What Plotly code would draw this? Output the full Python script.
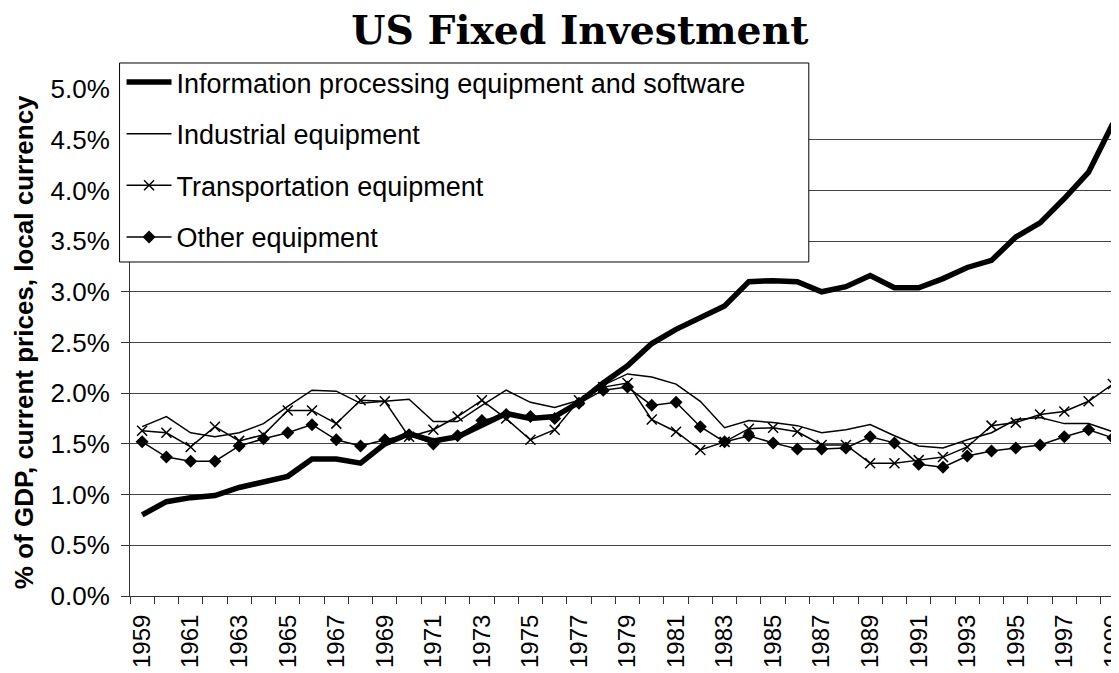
import plotly.graph_objects as go

years = list(range(1959, 2000))

info_processing = [0.80, 0.93, 0.97, 0.99, 1.07, 1.12, 1.18, 1.35, 1.35, 1.31,
                   1.50, 1.60, 1.53, 1.57, 1.69, 1.80, 1.75, 1.77, 1.91, 2.10,
                   2.27, 2.49, 2.63, 2.74, 2.86, 3.10, 3.11, 3.10, 3.00, 3.05,
                   3.16, 3.04, 3.04, 3.13, 3.24, 3.31, 3.54, 3.68, 3.92, 4.18, 4.66]
industrial = [1.67, 1.77, 1.61, 1.57, 1.61, 1.70, 1.87, 2.03, 2.02, 1.90,
              1.92, 1.94, 1.72, 1.72, 1.88, 2.03, 1.91, 1.86, 1.93, 2.08,
              2.19, 2.16, 2.09, 1.92, 1.66, 1.73, 1.71, 1.68, 1.61, 1.64,
              1.69, 1.58, 1.48, 1.46, 1.54, 1.61, 1.74, 1.76, 1.70, 1.70, 1.62]
transportation = [1.63, 1.61, 1.47, 1.67, 1.53, 1.59, 1.83, 1.83, 1.70, 1.93,
                  1.92, 1.57, 1.64, 1.77, 1.93, 1.75, 1.54, 1.64, 1.93, 2.06,
                  2.10, 1.74, 1.62, 1.44, 1.52, 1.65, 1.66, 1.62, 1.49, 1.49,
                  1.31, 1.31, 1.34, 1.37, 1.47, 1.68, 1.71, 1.79, 1.82, 1.92, 2.09]
other = [1.52, 1.37, 1.33, 1.33, 1.48, 1.55, 1.61, 1.69, 1.54, 1.48,
         1.54, 1.59, 1.50, 1.58, 1.73, 1.79, 1.77, 1.75, 1.90, 2.03,
         2.06, 1.88, 1.91, 1.67, 1.52, 1.58, 1.51, 1.45, 1.45, 1.46,
         1.57, 1.51, 1.30, 1.27, 1.38, 1.43, 1.46, 1.49, 1.57, 1.64, 1.56]

series_names = ['Information processing equipment and software', 'Industrial equipment',
                'Transportation equipment', 'Other equipment']

font_sans = 'Liberation Sans, Arial, sans-serif'

fig = go.Figure()
fig.add_trace(go.Scatter(x=years, y=info_processing, name=series_names[0], mode='lines',
                         line=dict(color='black', width=5.5), legendgroup='a'))
fig.add_trace(go.Scatter(x=years, y=industrial, name=series_names[1], mode='lines',
                         line=dict(color='black', width=1.5), legendgroup='b'))
fig.add_trace(go.Scatter(x=years, y=transportation, name=series_names[2], mode='lines+markers',
                         line=dict(color='black', width=1.5),
                         marker=dict(symbol='x-thin', size=10, color='black',
                                     line=dict(color='black', width=1.5)),
                         legendgroup='c'))
fig.add_trace(go.Scatter(x=years, y=other, name=series_names[3], mode='lines+markers',
                         line=dict(color='black', width=1.5),
                         marker=dict(symbol='diamond', size=10, color='black'),
                         legendgroup='d'))

# legend frame (wider than plotly's auto box)
fig.add_shape(type='rect', xref='paper', yref='paper', x0=-0.0105, x1=0.6822, y0=0.6588, y1=1.0513,
              line=dict(color='black', width=1), fillcolor='white', layer='above')

# y axis title as annotation so it can sit closer to the left edge
fig.add_annotation(text='<b>% of GDP, current prices, local currency</b>', textangle=-90,
                   xref='paper', yref='paper', x=-0.1069, y=0.5, xanchor='center', yanchor='middle',
                   showarrow=False, font=dict(family=font_sans, size=26, color='black'))

fig.update_layout(
    width=1119, height=673,
    margin=dict(l=121.5, r=1.5, t=81, b=85, autoexpand=False),
    plot_bgcolor='white', paper_bgcolor='white',
    font=dict(family=font_sans, size=26, color='black'),
    title=dict(text='<b>US Fixed Investment</b>', x=0.511, xref='container', xanchor='center',
               y=0.967, yanchor='middle',
               font=dict(family='DejaVu Serif, serif', size=39.3, color='black')),
    legend=dict(x=-0.0085, y=1.061, xanchor='left', yanchor='top', bgcolor='rgba(0,0,0,0)',
                borderwidth=0, font=dict(family=font_sans, size=27), tracegroupgap=13.5,
                itemwidth=45),
    showlegend=True,
)
fig.update_xaxes(range=[1958.5, 1999.5], tickmode='linear', tick0=1959, dtick=2, ticks='',
                 tickangle=-90, tickfont=dict(size=24), ticklabelstandoff=8,
                 showgrid=False, showline=True, linecolor='#333', linewidth=1, zeroline=False,
                 minor=dict(tick0=1958.5, dtick=1, ticks='outside', ticklen=7, tickcolor='#333',
                            showgrid=False))
fig.update_yaxes(range=[0, 5], dtick=0.5, tickformat='.1f', ticksuffix='%',
                 showgrid=True, gridcolor='#444', gridwidth=1, zeroline=False,
                 showline=True, linecolor='#333', linewidth=1,
                 ticks='outside', ticklen=8, tickcolor='#333', ticklabelstandoff=6,
                 tickfont=dict(size=26))

fig.write_html("out.html")
